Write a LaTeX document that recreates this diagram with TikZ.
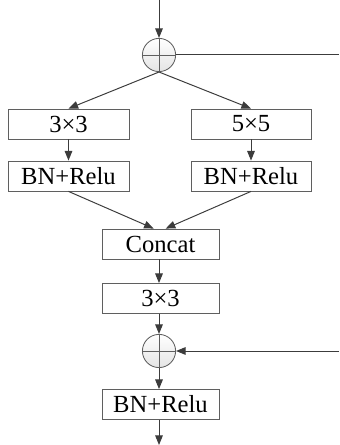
\documentclass[tikz,border=0pt]{standalone}
\usepackage{fontspec}
\setmainfont{Liberation Serif}
\usetikzlibrary{arrows.meta,positioning,calc}
\definecolor{lineC}{RGB}{60,60,60}
\definecolor{boxC}{RGB}{95,95,95}
\definecolor{sumC}{RGB}{228,228,228}

\begin{document}
\begin{tikzpicture}[
  blk/.style={draw=boxC, line width=0.6pt, minimum height=0.75cm, inner sep=0pt,
    font=\rmfamily\fontsize{17.5}{20}\selectfont},
  sum/.style={circle, draw=boxC, line width=0.6pt, minimum size=0.83cm, inner sep=0pt,
    top color=white, bottom color=sumC},
  flow/.style={lineC, line width=0.7pt, -{Triangle[length=0.24cm,width=0.19cm]}},
  wire/.style={lineC, line width=0.7pt}
]
\useasboundingbox (0,0) rectangle (8.475,11.125);

% Input and first sum
\coordinate (in) at (3.975,11.125);
\node[sum] (s1) at (3.975,9.75) {};
\draw[boxC, line width=0.6pt] (s1.north) -- (s1.south) (s1.west) -- (s1.east);
\coordinate (skip1) at (8.475,9.75);

% Two branches
\node[blk, minimum width=3.025cm] (c3) at (1.7125,8.025) {3×3};
\node[blk, minimum width=3.0cm] (c5) at (6.275,8.025) {5×5};
\node[blk, minimum width=3.025cm] (bn1) at (1.7125,6.725) {BN+Relu};
\node[blk, minimum width=3.0cm] (bn2) at (6.275,6.725) {BN+Relu};

% Merge
\node[blk, minimum width=2.925cm] (cat) at (4.0125,5.025) {Concat};
\node[blk, minimum width=2.925cm] (c33) at (4.0125,3.6625) {3×3};
\node[sum] (s2) at (3.975,2.35) {};
\draw[boxC, line width=0.6pt] (s2.north) -- (s2.south) (s2.west) -- (s2.east);
\coordinate (skip2) at (8.475,2.35);
\node[blk, minimum width=2.925cm] (bn3) at (4.0125,1.0125) {BN+Relu};
\coordinate (out) at (3.975,0);

% Connections
\draw[flow] (in) -- (s1.north);
\draw[wire] (s1.east) -- (skip1);
\draw[flow] (s1.south) -- (c3.north);
\draw[flow] (s1.south) -- (c5.north);
\draw[flow] (c3.south) -- (bn1.north);
\draw[flow] (c5.south) -- (bn2.north);
\draw[flow] (bn1.south) -- ([xshift=-0.17cm]cat.north);
\draw[flow] (bn2.south) -- ([xshift=0.13cm]cat.north);
\draw[flow] (cat.south -| s2) -- (c33.north -| s2);
\draw[flow] (c33.south -| s2) -- (s2.north);
\draw[flow] (skip2) -- (s2.east);
\draw[flow] (s2.south) -- (bn3.north -| s2);
\draw[flow] (bn3.south -| s2) -- (out);
\end{tikzpicture}
\end{document}
